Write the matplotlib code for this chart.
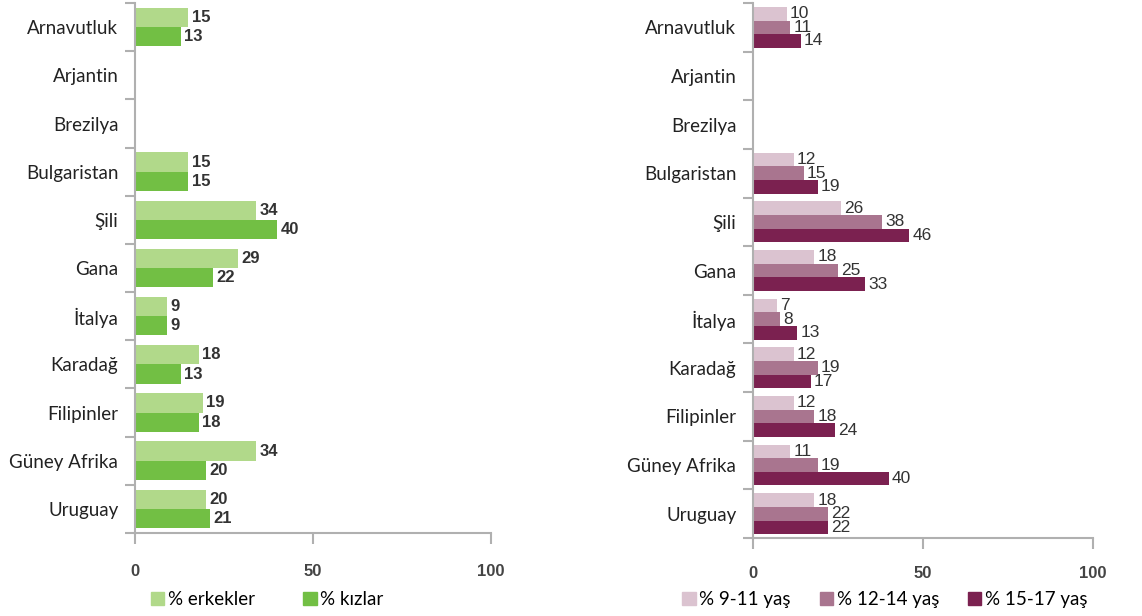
import matplotlib
matplotlib.use('Agg')
import matplotlib.pyplot as plt
from matplotlib.patches import Patch
import numpy as np

countries = ['Arnavutluk', 'Arjantin', 'Brezilya', 'Bulgaristan', 'Şili', 'Gana',
             'İtalya', 'Karadağ', 'Filipinler', 'Güney Afrika', 'Uruguay']

# sol grafik: cinsiyete göre
erkekler = [15, None, None, 15, 34, 29, 9, 18, 19, 34, 20]
kizlar = [13, None, None, 15, 40, 22, 9, 13, 18, 20, 21]

# sag grafik: yas gruplarina gore
yas_9_11 = [10, None, None, 12, 26, 18, 7, 12, 12, 11, 18]
yas_12_14 = [11, None, None, 15, 38, 25, 8, 19, 18, 19, 22]
yas_15_17 = [14, None, None, 19, 46, 33, 13, 17, 24, 40, 22]

xticks = [0, 50, 100]

cat_font = 'Lato'
num_font = 'Liberation Sans'
axis_col = '#b0b0b0'


def to_arr(vals):
    return np.array([np.nan if v is None else v for v in vals], dtype=float)


def style_axis(ax, pad):
    n = len(countries)
    ax.set_xlim(0, 100)
    ax.set_ylim(n - 0.5, -0.5)
    for s in ['top', 'right']:
        ax.spines[s].set_visible(False)
    for s in ['left', 'bottom']:
        ax.spines[s].set_color(axis_col)
        ax.spines[s].set_linewidth(1.5)
    # category boundaries as ticks, names on minor ticks
    ax.set_yticks(np.arange(n + 1) - 0.5)
    ax.set_yticklabels([])
    ax.set_yticks(np.arange(n), minor=True)
    ax.set_yticklabels(countries, minor=True, fontfamily=cat_font, fontsize=13.5, color='#222222')
    ax.tick_params(axis='y', which='major', length=7, width=1.5, color=axis_col)
    ax.tick_params(axis='y', which='minor', length=0, pad=12)
    ax.set_xticks(xticks)
    ax.set_xticklabels([str(t) for t in xticks], fontfamily=num_font, fontweight='bold',
                       fontsize=12, color='#444444')
    ax.tick_params(axis='x', length=8, width=1.5, color=axis_col, pad=pad)


def add_labels(ax, ypos, vals, weight, size):
    for y, v in zip(ypos, vals):
        if np.isnan(v):
            continue
        ax.text(v + 0.9, y, str(int(v)), va='center', ha='left', fontfamily=num_font,
                fontweight=weight, fontsize=size, color='#333333')


fig = plt.figure(figsize=(11.42, 6.16), dpi=100)

# ---- left chart ----
ax1 = fig.add_axes([0.1182, 0.1347, 0.3117, 0.8603])
y = np.arange(len(countries))
h = 0.4
left_cols = ['#b1d98a', '#72bf44']
left_series = [to_arr(erkekler), to_arr(kizlar)]
for i, (vals, c) in enumerate(zip(left_series, left_cols)):
    yy = y + (i - 0.5) * h
    ax1.barh(yy, np.nan_to_num(vals), height=h, color=c, edgecolor='none')
    add_labels(ax1, yy, vals, 'bold', 12)
style_axis(ax1, pad=14)

fig.legend(handles=[Patch(color=left_cols[0], label='% erkekler'),
                    Patch(color=left_cols[1], label='% kızlar')],
           loc='center', bbox_to_anchor=(0.234, 0.027), ncol=2, frameon=False,
           handlelength=0.7, handleheight=0.7, handletextpad=0.2, columnspacing=2.6,
           prop={'family': cat_font, 'size': 13.5})

# ---- right chart ----
ax2 = fig.add_axes([0.6594, 0.1266, 0.2977, 0.8685])
h = 0.28
right_cols = ['#dbc3d0', '#a9758f', '#7b2150']
right_series = [to_arr(yas_9_11), to_arr(yas_12_14), to_arr(yas_15_17)]
for i, (vals, c) in enumerate(zip(right_series, right_cols)):
    yy = y + (i - 1) * h
    ax2.barh(yy, np.nan_to_num(vals), height=h, color=c, edgecolor='none')
    add_labels(ax2, yy, vals, 'medium', 12.5)
style_axis(ax2, pad=12)

fig.legend(handles=[Patch(color=right_cols[0], label='% 9-11 yaş'),
                    Patch(color=right_cols[1], label='% 12-14 yaş'),
                    Patch(color=right_cols[2], label='% 15-17 yaş')],
           loc='center', bbox_to_anchor=(0.775, 0.027), ncol=3, frameon=False,
           handlelength=0.7, handleheight=0.7, handletextpad=0.2, columnspacing=1.55,
           prop={'family': cat_font, 'size': 13.5})

fig.savefig('out.png', dpi=100, facecolor='white')
